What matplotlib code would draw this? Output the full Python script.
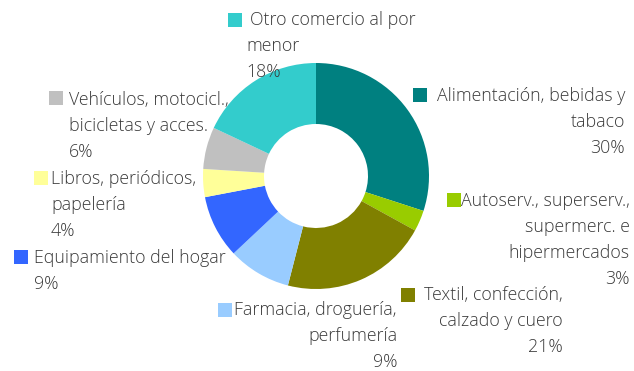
import matplotlib
matplotlib.use("Agg")
import matplotlib.pyplot as plt
from matplotlib.patches import Rectangle

# share of sales by retail branch (%)
categories = [
    "Alimentación, bebidas y\ntabaco",
    "Autoserv., superserv.,\nsupermerc. e\nhipermercados",
    "Textil, confección,\ncalzado y cuero",
    "Farmacia, droguería,\nperfumería",
    "Equipamiento del hogar",
    "Libros, periódicos,\npapelería",
    "Vehículos, motocicl.,\nbicicletas y acces.",
    "Otro comercio al por\nmenor",
]
shares = [30, 3, 21, 9, 9, 4, 6, 18]
colors = ["#008080", "#99cc00", "#808000", "#99ccff",
          "#3366ff", "#ffff99", "#c0c0c0", "#33cccc"]

W, H = 634, 371
fig = plt.figure(figsize=(W / 100, H / 100), dpi=100)
ax = fig.add_axes([0, 0, 1, 1])

# donut (pie drawn in y-down pixel space, so counterclock=True turns clockwise)
ax.pie(shares, colors=colors, startangle=-90, counterclock=True,
       center=(316, 176), radius=113, frame=True,
       wedgeprops=dict(width=61, linewidth=0))
ax.set_xlim(0, W)
ax.set_ylim(H, 0)
ax.axis("off")

# label layout: (square x, square y, text x, first line y, alignment)
layout = [
    (413, 88, 625, 96, "right"),
    (447, 193, 630, 201, "right"),
    (401, 288, 563, 295, "right"),
    (218, 303, 397, 310, "right"),
    (14, 250, 34, 258, "left"),
    (34, 171, 51, 179, "left"),
    (49, 91, 69, 100, "left"),
    (228, 13, 250, 20, "left"),
]

txt = dict(fontsize=12.8, color="#3a3a3a", family="Open Sans", fontweight="light")
step = 26
for name, val, col, (sx, sy, tx, ty, ha) in zip(categories, shares, colors, layout):
    ax.add_patch(Rectangle((sx, sy), 14, 14, color=col, lw=0))
    lines = name.split("\n") + [f"{val}%"]
    for i, line in enumerate(lines):
        x = tx
        if ha == "left" and i > 0 and tx == 250:
            x = 246
        ax.text(x, ty + i * step, line, ha=ha, va="center", **txt)

fig.savefig("out.png", dpi=100)
